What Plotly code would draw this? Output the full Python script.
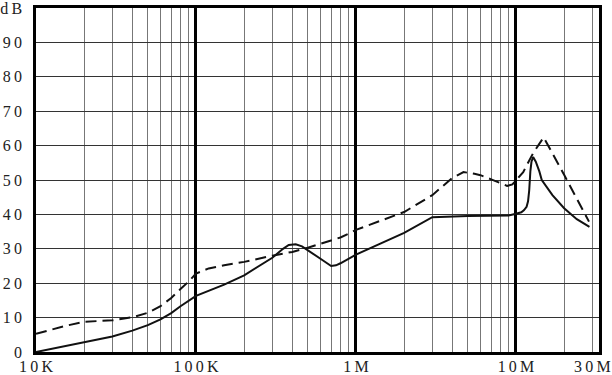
import math
import plotly.graph_objects as go

# ---- data ----
freq_solid = [1e4, 1.5e4, 2e4, 3e4, 4e4, 5e4, 6e4, 7e4, 8e4, 9e4, 1e5, 1.5e5, 2e5, 3e5,
              3.5e5, 3.8e5, 4.2e5, 4.6e5, 5e5, 6e5, 7e5, 7.5e5, 8e5, 9e5, 1e6, 2e6, 3e6,
              5e6, 8e6, 9e6, 1e7, 1.08e7, 1.12e7, 1.165e7, 1.19e7, 1.21e7, 1.23e7, 1.25e7,
              1.28e7, 1.33e7, 1.4e7, 1.45e7, 1.69e7, 2e7, 2.4e7, 2.88e7]
solid_db = [0, 1.7, 2.9, 4.5, 6.2, 7.8, 9.5, 11.3, 13.3, 15.0, 16.3, 19.6, 22.3, 27.4,
            30.0, 31.1, 31.3, 30.7, 29.5, 27.1, 25.0, 25.2, 25.8, 27.0, 28.3, 34.6, 39.2,
            39.5, 39.8, 39.7, 40.2, 40.6, 41.2, 42.2, 43.8, 47.0, 52.5, 55.3,
            56.7, 55.3, 52.5, 50.0, 45.6, 41.8, 38.6, 36.4]

freq_dashed = [1e4, 1.5e4, 2e4, 3e4, 4e4, 5e4, 6e4, 7e4, 8e4, 9e4, 1e5, 1.2e5, 1.5e5, 2e5,
               3e5, 4e5, 5e5, 6e5, 7e5, 8e5, 9e5, 1e6, 2e6, 3e6, 4e6, 4.7e6, 5.5e6, 6e6,
               7e6, 8e6, 8.8e6, 9.5e6, 1e7, 1.11e7, 1.28e7, 1.49e7, 2e7, 2.86e7]
dashed_db = [5.3, 7.5, 8.8, 9.2, 10.1, 11.4, 13.3, 15.7, 18.3, 20.5, 22.8, 24.3, 25.2, 26.2,
             28.0, 29.1, 30.3, 31.4, 32.3, 33.3, 34.4, 35.5, 40.7, 45.6, 50.6, 52.3, 51.8, 51.4,
             50.2, 49.0, 48.3, 48.7, 49.8, 52.3, 57.8, 62.4, 51.5, 37.9]

x_tick_vals = [1e4, 1e5, 1e6, 1e7, 3e7]
x_tick_text = ["10K", "100K", "1M", "10M", "30M"]
decade_vals = [1e4, 1e5, 1e6, 1e7]
minor_vals = [m * d for d in [1e4, 1e5, 1e6] for m in range(2, 10)] + [2e7, 3e7]
y_tick_vals = [0, 10, 20, 30, 40, 50, 60, 70, 80, 90, 100]
y_tick_text = ["0", "10", "20", "30", "40", "50", "60", "70", "80", "90", "dB"]

SP = "\u2009"
def spaced(s):
    return SP.join(list(s))

x_range = [4, 7.519]

fig = go.Figure()
fig.add_trace(go.Scatter(x=freq_dashed, y=dashed_db, mode="lines", xaxis="x2", yaxis="y",
                         line=dict(color="#111", width=2, dash="11px,6px")))
fig.add_trace(go.Scatter(x=freq_solid, y=solid_db, mode="lines",
                         line=dict(color="#111", width=2)))

fig.update_layout(
    width=612, height=375,
    margin=dict(l=36, r=13, t=8, b=23),
    plot_bgcolor="white", paper_bgcolor="white",
    showlegend=False,
    font=dict(family="Liberation Serif", size=17, color="#222"),
    xaxis=dict(
        type="log", range=x_range, automargin=False,
        tickmode="array", tickvals=x_tick_vals,
        ticktext=[spaced(t) for t in x_tick_text],
        tickfont=dict(size=16), ticklabelstandoff=-2,
        showgrid=False, zeroline=False, ticks="",
        showline=True, mirror=True, linecolor="black", linewidth=2.5,
        minor=dict(tickmode="array", tickvals=minor_vals, showgrid=True,
                   gridcolor="#777", gridwidth=1, ticks=""),
    ),
    xaxis2=dict(
        type="log", range=x_range, overlaying="x", anchor="y", side="bottom",
        automargin=False,
        tickmode="array", tickvals=decade_vals,
        showticklabels=False, showgrid=True, gridcolor="black", gridwidth=2.5,
        ticks="", showline=False, zeroline=False,
    ),
    yaxis=dict(
        range=[0, 100], automargin=False,
        tickmode="array", tickvals=y_tick_vals,
        ticktext=[spaced(t) for t in y_tick_text],
        tickfont=dict(size=16),
        ticklabeloverflow="allow",
        showgrid=True, gridcolor="#333", gridwidth=1, zeroline=False, ticks="",
        showline=True, mirror=True, linecolor="black", linewidth=2.5,
        ticklabelstandoff=8,
    ),
)

fig.write_html("out.html", config={"displayModeBar": False},
               post_script="document.body.style.margin='0';")
